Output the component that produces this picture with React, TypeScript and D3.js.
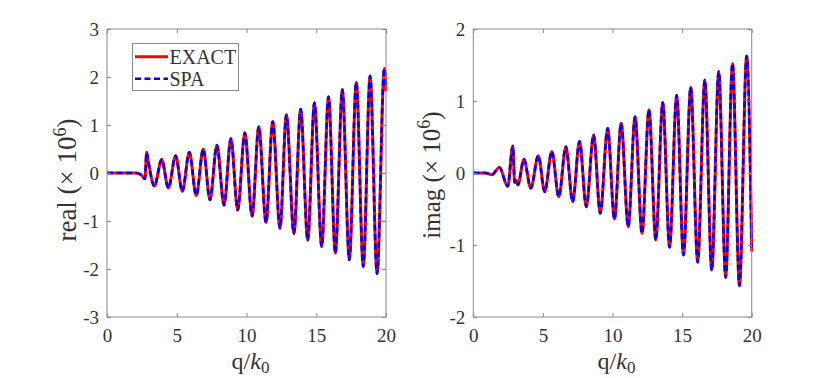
import React, { useEffect, useRef } from 'react';
import * as d3 from 'd3';

// real part: q positions of the visible turning points and the values there (x 10^6)
const realQ = [0, 2.1, 2.45, 2.72, 2.84, 2.97, 3.4, 3.92, 4.4, 4.92, 5.4, 5.9, 6.4, 6.9, 7.38, 7.88, 8.39, 8.88, 9.37, 9.88, 10.4, 10.88, 11.4, 11.88, 12.4, 12.86, 13.4, 13.88, 14.39, 14.87, 15.39, 15.88, 16.37, 16.87, 17.37, 17.87, 18.37, 18.86, 19.36, 19.88, 20];
const realExact = [0, 0, -0.04, -0.12, 0.43, 0.22, -0.27, 0.28, -0.31, 0.36, -0.38, 0.43, -0.47, 0.5, -0.56, 0.58, -0.67, 0.72, -0.77, 0.84, -0.9, 0.96, -1.03, 1.07, -1.15, 1.21, -1.26, 1.33, -1.4, 1.46, -1.53, 1.59, -1.67, 1.74, -1.81, 1.89, -1.95, 2.02, -2.1, 2.18, 1.7];
const realSpa = [0, 0, -0.04, -0.12, 0.43, 0.22, -0.27, 0.28, -0.31, 0.36, -0.38, 0.43, -0.47, 0.5, -0.56, 0.58, -0.67, 0.72, -0.77, 0.84, -0.9, 0.96, -1.03, 1.07, -1.15, 1.21, -1.26, 1.33, -1.4, 1.46, -1.53, 1.59, -1.67, 1.74, -1.81, 1.89, -1.95, 2.02, -2.1, 2.18, 1.82];

// imaginary part
const imagQ = [0, 0.9, 1.32, 1.88, 2.47, 2.84, 2.97, 3.07, 3.2, 3.64, 4.13, 4.67, 5.13, 5.64, 6.14, 6.65, 7.14, 7.63, 8.12, 8.64, 9.12, 9.65, 10.14, 10.62, 11.13, 11.62, 12.12, 12.62, 13.11, 13.61, 14.1, 14.61, 15.1, 15.62, 16.12, 16.63, 17.13, 17.63, 18.13, 18.62, 19.12, 19.64, 20];
const imagExact = [0, 0, -0.025, 0.075, -0.185, 0.375, -0.13, -0.1, -0.165, 0.19, -0.21, 0.24, -0.26, 0.3, -0.33, 0.365, -0.4, 0.44, -0.47, 0.53, -0.56, 0.62, -0.64, 0.69, -0.745, 0.78, -0.84, 0.88, -0.93, 0.98, -1.03, 1.08, -1.14, 1.19, -1.24, 1.29, -1.35, 1.41, -1.45, 1.52, -1.565, 1.625, -1.09];
const imagSpa = imagExact;

const xTicks = [0, 5, 10, 15, 20];
const realTicks = [-3, -2, -1, 0, 1, 2, 3];
const imagTicks = [-2, -1, 0, 1, 2];
const legendNames = ['EXACT', 'SPA'];

function App() {
  const ref = useRef<SVGSVGElement>(null);

  useEffect(() => {
    const svg = d3.select(ref.current);
    svg.selectAll('*').remove();

    const textColor = '#333333';
    const boxColor = '#8a8a8a';
    const serif = '"Liberation Serif", "Times New Roman", serif';

    const panels = [
      { left: 107, right: 386, q: realQ, exact: realExact, spa: realSpa, ticks: realTicks, dom: [-3, 3], label: 'real', labelX: 76, labelY: 180, labelSize: 27, legend: true },
      { left: 473.3, right: 751.7, q: imagQ, exact: imagExact, spa: imagSpa, ticks: imagTicks, dom: [-2, 2], label: 'imag', labelX: 440, labelY: 175, labelSize: 25, legend: false },
    ];
    const top = 29, bottom = 317;

    panels.forEach(p => {
      const x = d3.scaleLinear().domain([0, 20]).range([p.left, p.right]);
      const y = d3.scaleLinear().domain(p.dom).range([bottom, top]);
      const g = svg.append('g');

      const line = d3.line<number>()
        .x((d, i) => x(p.q[i]))
        .y(d => y(d))
        .curve(d3.curveMonotoneX);

      g.append('path').attr('d', line(p.exact))
        .attr('fill', 'none').attr('stroke', '#ff0000').attr('stroke-width', 3);
      g.append('path').attr('d', line(p.spa))
        .attr('fill', 'none').attr('stroke', '#0000ff').attr('stroke-width', 2.6)
        .attr('stroke-dasharray', '6,3.5');

      // axes (ticks inside, box on)
      const bx = g.append('g').attr('transform', `translate(0,${bottom})`)
        .call(d3.axisBottom(x).tickValues(xTicks).tickSize(-4).tickPadding(12).tickFormat(d3.format('d')));
      const tx = g.append('g').attr('transform', `translate(0,${top})`)
        .call(d3.axisTop(x).tickValues(xTicks).tickSize(-4).tickFormat(() => ''));
      const ly = g.append('g').attr('transform', `translate(${p.left},0)`)
        .call(d3.axisLeft(y).tickValues(p.ticks).tickSize(-4).tickPadding(8).tickFormat(d => `${d}`.replace('−', '-')));
      const ry = g.append('g').attr('transform', `translate(${p.right},0)`)
        .call(d3.axisRight(y).tickValues(p.ticks).tickSize(-4).tickFormat(() => ''));

      [bx, tx, ly, ry].forEach(a => {
        a.attr('font-family', serif).attr('font-size', 19);
        a.select('.domain').remove();
        a.selectAll('line').attr('stroke', boxColor);
        a.selectAll('text').attr('fill', textColor);
      });

      g.append('rect').attr('x', p.left).attr('y', top)
        .attr('width', p.right - p.left).attr('height', bottom - top)
        .attr('fill', 'none').attr('stroke', boxColor).attr('stroke-width', 1);

      // x label
      const xl = g.append('text').attr('x', (p.left + p.right) / 2 + 4).attr('y', 369)
        .attr('text-anchor', 'middle').attr('font-family', serif).attr('font-size', 24).attr('fill', textColor);
      xl.append('tspan').text('q');
      xl.append('tspan').text('/');
      xl.append('tspan').attr('font-style', 'italic').text('k');
      xl.append('tspan').attr('font-size', 17).attr('dy', 4).text('0');

      // y label
      const yl = g.append('text').attr('transform', `translate(${p.labelX},${p.labelY}) rotate(-90)`)
        .attr('text-anchor', 'middle').attr('font-family', serif).attr('font-size', p.labelSize).attr('fill', textColor);
      yl.append('tspan').text(`${p.label} (× 10`);
      yl.append('tspan').attr('font-size', 18).attr('dy', -10).text('6');
      yl.append('tspan').attr('dy', 10).text(')');

      if (p.legend) {
        const lg = g.append('g');
        lg.append('rect').attr('x', 132.5).attr('y', 43.5).attr('width', 106).attr('height', 47)
          .attr('fill', '#fff').attr('stroke', boxColor).attr('stroke-width', 1);
        legendNames.forEach((name, i) => {
          const yy = 56.7 + i * 22;
          lg.append('line').attr('x1', 135).attr('x2', 168).attr('y1', yy).attr('y2', yy)
            .attr('stroke', i === 0 ? '#ff0000' : '#0000ff')
            .attr('stroke-width', i === 0 ? 3 : 2.6)
            .attr('stroke-dasharray', i === 0 ? null : '6,3.5');
          lg.append('text').attr('x', 169.5).attr('y', yy + 7).text(name)
            .attr('font-family', serif).attr('font-size', 20).attr('fill', textColor);
        });
      }
    });
  }, []);

  return (
    <svg ref={ref} width={830} height={378}
      style={{ position: 'absolute', left: 0, top: 0, background: '#fff' }} />
  );
}

export default App;
